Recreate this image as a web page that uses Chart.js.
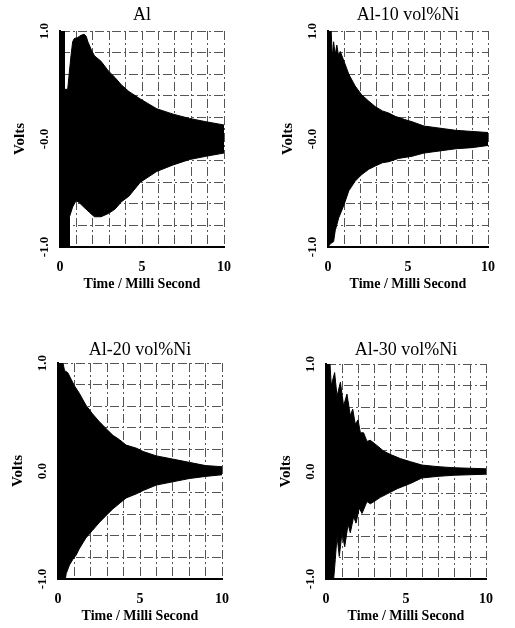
<!DOCTYPE html>
<html>
<head>
<meta charset="utf-8">
<script src="https://cdn.jsdelivr.net/npm/chart.js@4.4.0/dist/chart.umd.min.js"></script>
<style>
  html, body { margin: 0; padding: 0; background: #fff; overflow: hidden; }
  #wrap { position: relative; width: 515px; height: 628px; }
  .panel { position: absolute; }
</style>
</head>
<body>
<div id="wrap"></div>
<script>
// Titles and tick labels
const titles = ['Al', 'Al-10 vol%Ni', 'Al-20 vol%Ni', 'Al-30 vol%Ni'];
const xTickValues = [0, 5, 10];
const xTickLabels = ['0', '5', '10'];
const yTickValues = [1, 0, -1];
const yTickLabelsTop = ['1.0', '-0.0', '-1.0'];
const yTickLabelsBottom = ['1.0', '0.0', '-1.0'];

// Envelope of the decaying signal (ms, volts)
const alUpT = [0, 0.25, 0.27, 0.47, 0.57, 0.67, 0.77, 0.87, 1.08, 1.28, 1.48, 1.6, 1.7, 1.9, 2.1, 2.5, 2.95, 3.35, 3.75, 4.2, 4.9, 5.9, 6.9, 7.9, 8.9, 10];
const alUp  = [1.0, 1.0, 0.46, 0.46, 0.62, 0.77, 0.9, 0.93, 0.94, 0.96, 0.97, 0.95, 0.9, 0.83, 0.77, 0.72, 0.63, 0.57, 0.5, 0.44, 0.37, 0.28, 0.23, 0.19, 0.16, 0.13];
const alLowT = [0, 0.55, 0.58, 0.77, 0.98, 1.18, 1.38, 1.8, 2.1, 2.5, 2.95, 3.35, 3.75, 4.2, 4.9, 5.9, 6.9, 7.9, 8.9, 10];
const alLow  = [-1.0, -1.0, -0.72, -0.63, -0.57, -0.59, -0.62, -0.68, -0.72, -0.72, -0.69, -0.65, -0.58, -0.53, -0.40, -0.30, -0.24, -0.19, -0.16, -0.13];

const ni10UpT = [0, 0.2, 0.27, 0.35, 0.45, 0.55, 0.65, 0.77, 1.0, 1.3, 1.7, 2.1, 2.55, 2.95, 3.4, 3.8, 4.2, 4.8, 5.25, 6, 7, 8, 9, 10];
const ni10Up  = [1.0, 1.0, 0.75, 0.9, 0.78, 0.87, 0.78, 0.81, 0.72, 0.6, 0.49, 0.41, 0.35, 0.3, 0.26, 0.24, 0.21, 0.18, 0.16, 0.12, 0.1, 0.08, 0.07, 0.06];
const ni10LowT = [0, 0.15, 0.35, 0.45, 0.67, 1.0, 1.3, 1.7, 2.1, 2.55, 2.95, 3.4, 3.8, 4.4, 5.25, 6, 7, 8, 9, 10];
const ni10Low  = [-1.0, -0.97, -0.95, -0.85, -0.73, -0.61, -0.48, -0.39, -0.33, -0.28, -0.25, -0.22, -0.21, -0.18, -0.16, -0.13, -0.11, -0.09, -0.08, -0.06];

const ni20UpT = [0, 0.3, 0.4, 0.6, 0.8, 1.0, 1.3, 1.7, 2.1, 2.5, 2.95, 3.35, 3.75, 4.15, 4.8, 5.2, 6, 7, 8, 9, 10];
const ni20Up  = [1.0, 1.0, 0.93, 0.91, 0.85, 0.79, 0.72, 0.61, 0.53, 0.46, 0.39, 0.33, 0.29, 0.24, 0.21, 0.18, 0.14, 0.11, 0.08, 0.05, 0.04];
const ni20LowT = [0, 0.45, 0.5, 0.7, 0.9, 1.1, 1.3, 1.7, 2.1, 2.5, 2.95, 3.35, 3.75, 4.15, 4.8, 5.2, 6, 7, 8, 9, 10];
const ni20Low  = [-1.0, -1.0, -0.95, -0.87, -0.82, -0.78, -0.72, -0.62, -0.55, -0.48, -0.41, -0.35, -0.3, -0.25, -0.21, -0.18, -0.13, -0.1, -0.07, -0.05, -0.035];

const ni30UpT = [0, 0.25, 0.33, 0.54, 0.69, 0.9, 1.1, 1.31, 1.52, 1.67, 1.83, 2.0, 2.15, 2.35, 2.56, 2.77, 3.2, 3.6, 4.0, 4.65, 5.3, 6, 7, 8, 9, 10];
const ni30Up  = [1.0, 1.0, 0.8, 0.92, 0.7, 0.83, 0.61, 0.72, 0.52, 0.58, 0.44, 0.48, 0.36, 0.36, 0.28, 0.29, 0.24, 0.19, 0.16, 0.12, 0.09, 0.06, 0.045, 0.035, 0.03, 0.025];
const ni30LowT = [0, 0.48, 0.58, 0.69, 0.83, 1.0, 1.17, 1.38, 1.52, 1.73, 1.875, 2.08, 2.25, 2.56, 2.77, 3.0, 3.4, 3.8, 4.45, 5.3, 6, 7, 8, 9, 10];
const ni30Low  = [-1.0, -1.0, -0.82, -0.6, -0.79, -0.57, -0.7, -0.49, -0.57, -0.42, -0.48, -0.34, -0.39, -0.28, -0.3, -0.28, -0.24, -0.21, -0.16, -0.11, -0.06, -0.045, -0.035, -0.03, -0.025];

// Layout of each panel: plot area box and title centre (page pixels)
const panels = [
    { upT: alUpT, up: alUp, lowT: alLowT, low: alLow, yLabels: yTickLabelsTop, left: 60, top: 31, w: 164, h: 216, titleY: 15 },
    { upT: ni10UpT, up: ni10Up, lowT: ni10LowT, low: ni10Low, yLabels: yTickLabelsTop, left: 328, top: 31, w: 160, h: 216, titleY: 15 },
    { upT: ni20UpT, up: ni20Up, lowT: ni20LowT, low: ni20Low, yLabels: yTickLabelsBottom, left: 58, top: 363, w: 164, h: 216, titleY: 350 },
    { upT: ni30UpT, up: ni30Up, lowT: ni30LowT, low: ni30Low, yLabels: yTickLabelsBottom, left: 326, top: 364, w: 160, h: 215, titleY: 350 }
];

const AXIS_W = 60, TITLE_H = 31, XAXIS_H = 53, PAD_R = 25;
const GRID_DASH = [9, 3, 2, 3];
const serif = '"Liberation Serif", "Times New Roman", serif';

function toPoints(ts, vs) {
    return ts.map((t, i) => ({ x: t, y: vs[i] }));
}

function near(a, b) { return Math.abs(a - b) < 1e-6; }

// grid hidden where it sits on the axis lines
function gridColor(hide) {
    return ctx => (ctx.tick && hide.some(v => near(ctx.tick.value, v))) ? 'rgba(0,0,0,0)' : '#555';
}

const wrap = document.getElementById('wrap');

panels.forEach((p, idx) => {
    const div = document.createElement('div');
    div.className = 'panel';
    const cw = AXIS_W + p.w + PAD_R;
    const ch = TITLE_H + p.h + XAXIS_H;
    div.style.left = (p.left - AXIS_W) + 'px';
    div.style.top = (p.top - TITLE_H) + 'px';
    div.style.width = cw + 'px';
    div.style.height = ch + 'px';
    const canvas = document.createElement('canvas');
    canvas.width = cw;
    canvas.height = ch;
    div.appendChild(canvas);
    wrap.appendChild(div);

    const titleMid = p.titleY - (p.top - TITLE_H);
    const padTop = titleMid - 9;

    new Chart(canvas, {
        type: 'line',
        data: {
            datasets: [{
                data: toPoints(p.upT, p.up),
                borderColor: '#000',
                backgroundColor: '#000',
                borderWidth: 1,
                pointRadius: 0,
                tension: 0,
                fill: '+1'
            }, {
                data: toPoints(p.lowT, p.low),
                borderColor: '#000',
                backgroundColor: '#000',
                borderWidth: 1,
                pointRadius: 0,
                tension: 0,
                fill: false
            }]
        },
        options: {
            responsive: false,
            animation: false,
            events: [],
            layout: { padding: { left: 0, right: PAD_R, top: 0, bottom: 0 } },
            plugins: {
                legend: { display: false },
                tooltip: { enabled: false },
                title: {
                    display: true,
                    text: titles[idx],
                    fullSize: false,
                    color: '#000',
                    font: { family: serif, size: 18, weight: 'normal', lineHeight: 1 },
                    padding: { top: padTop, bottom: TITLE_H - 18 - padTop }
                }
            },
            scales: {
                x: {
                    type: 'linear',
                    min: 0,
                    max: 10,
                    afterFit: s => { s.height = XAXIS_H; },
                    // border.dash sets the dash-dot of the grid lines
                    border: { display: true, color: '#000', width: 2, dash: GRID_DASH },
                    grid: {
                        drawTicks: false,
                        color: gridColor([0]),
                        lineWidth: 1
                    },
                    ticks: {
                        stepSize: 1,
                        autoSkip: false,
                        maxRotation: 0,
                        padding: 12,
                        color: '#000',
                        font: { family: serif, size: 14, weight: 'bold' },
                        callback: v => {
                            const i = xTickValues.findIndex(t => near(t, v));
                            return i >= 0 ? xTickLabels[i] : '';
                        }
                    },
                    title: {
                        display: true,
                        text: 'Time / Milli Second',
                        color: '#000',
                        font: { family: serif, size: 14, weight: 'bold' },
                        padding: { top: 0, bottom: 7 }
                    }
                },
                y: {
                    type: 'linear',
                    min: -1,
                    max: 1,
                    afterFit: s => { s.width = AXIS_W; },
                    border: { display: true, color: '#000', width: 2, dash: GRID_DASH },
                    grid: {
                        drawTicks: false,
                        color: gridColor([0, -1]),
                        lineWidth: 1
                    },
                    ticks: {
                        stepSize: 0.2,
                        autoSkip: false,
                        minRotation: 90,
                        maxRotation: 90,
                        crossAlign: 'center',
                        padding: 5,
                        color: '#000',
                        font: { family: serif, size: 13, weight: 'bold' },
                        callback: v => {
                            const i = yTickValues.findIndex(t => near(t, v));
                            return i >= 0 ? p.yLabels[i] : '';
                        }
                    },
                    title: {
                        display: true,
                        text: 'Volts',
                        color: '#000',
                        font: { family: serif, size: 15, weight: 'bold' },
                        padding: { top: 11, bottom: 0 }
                    }
                }
            }
        }
    });
});
</script>
</body>
</html>
